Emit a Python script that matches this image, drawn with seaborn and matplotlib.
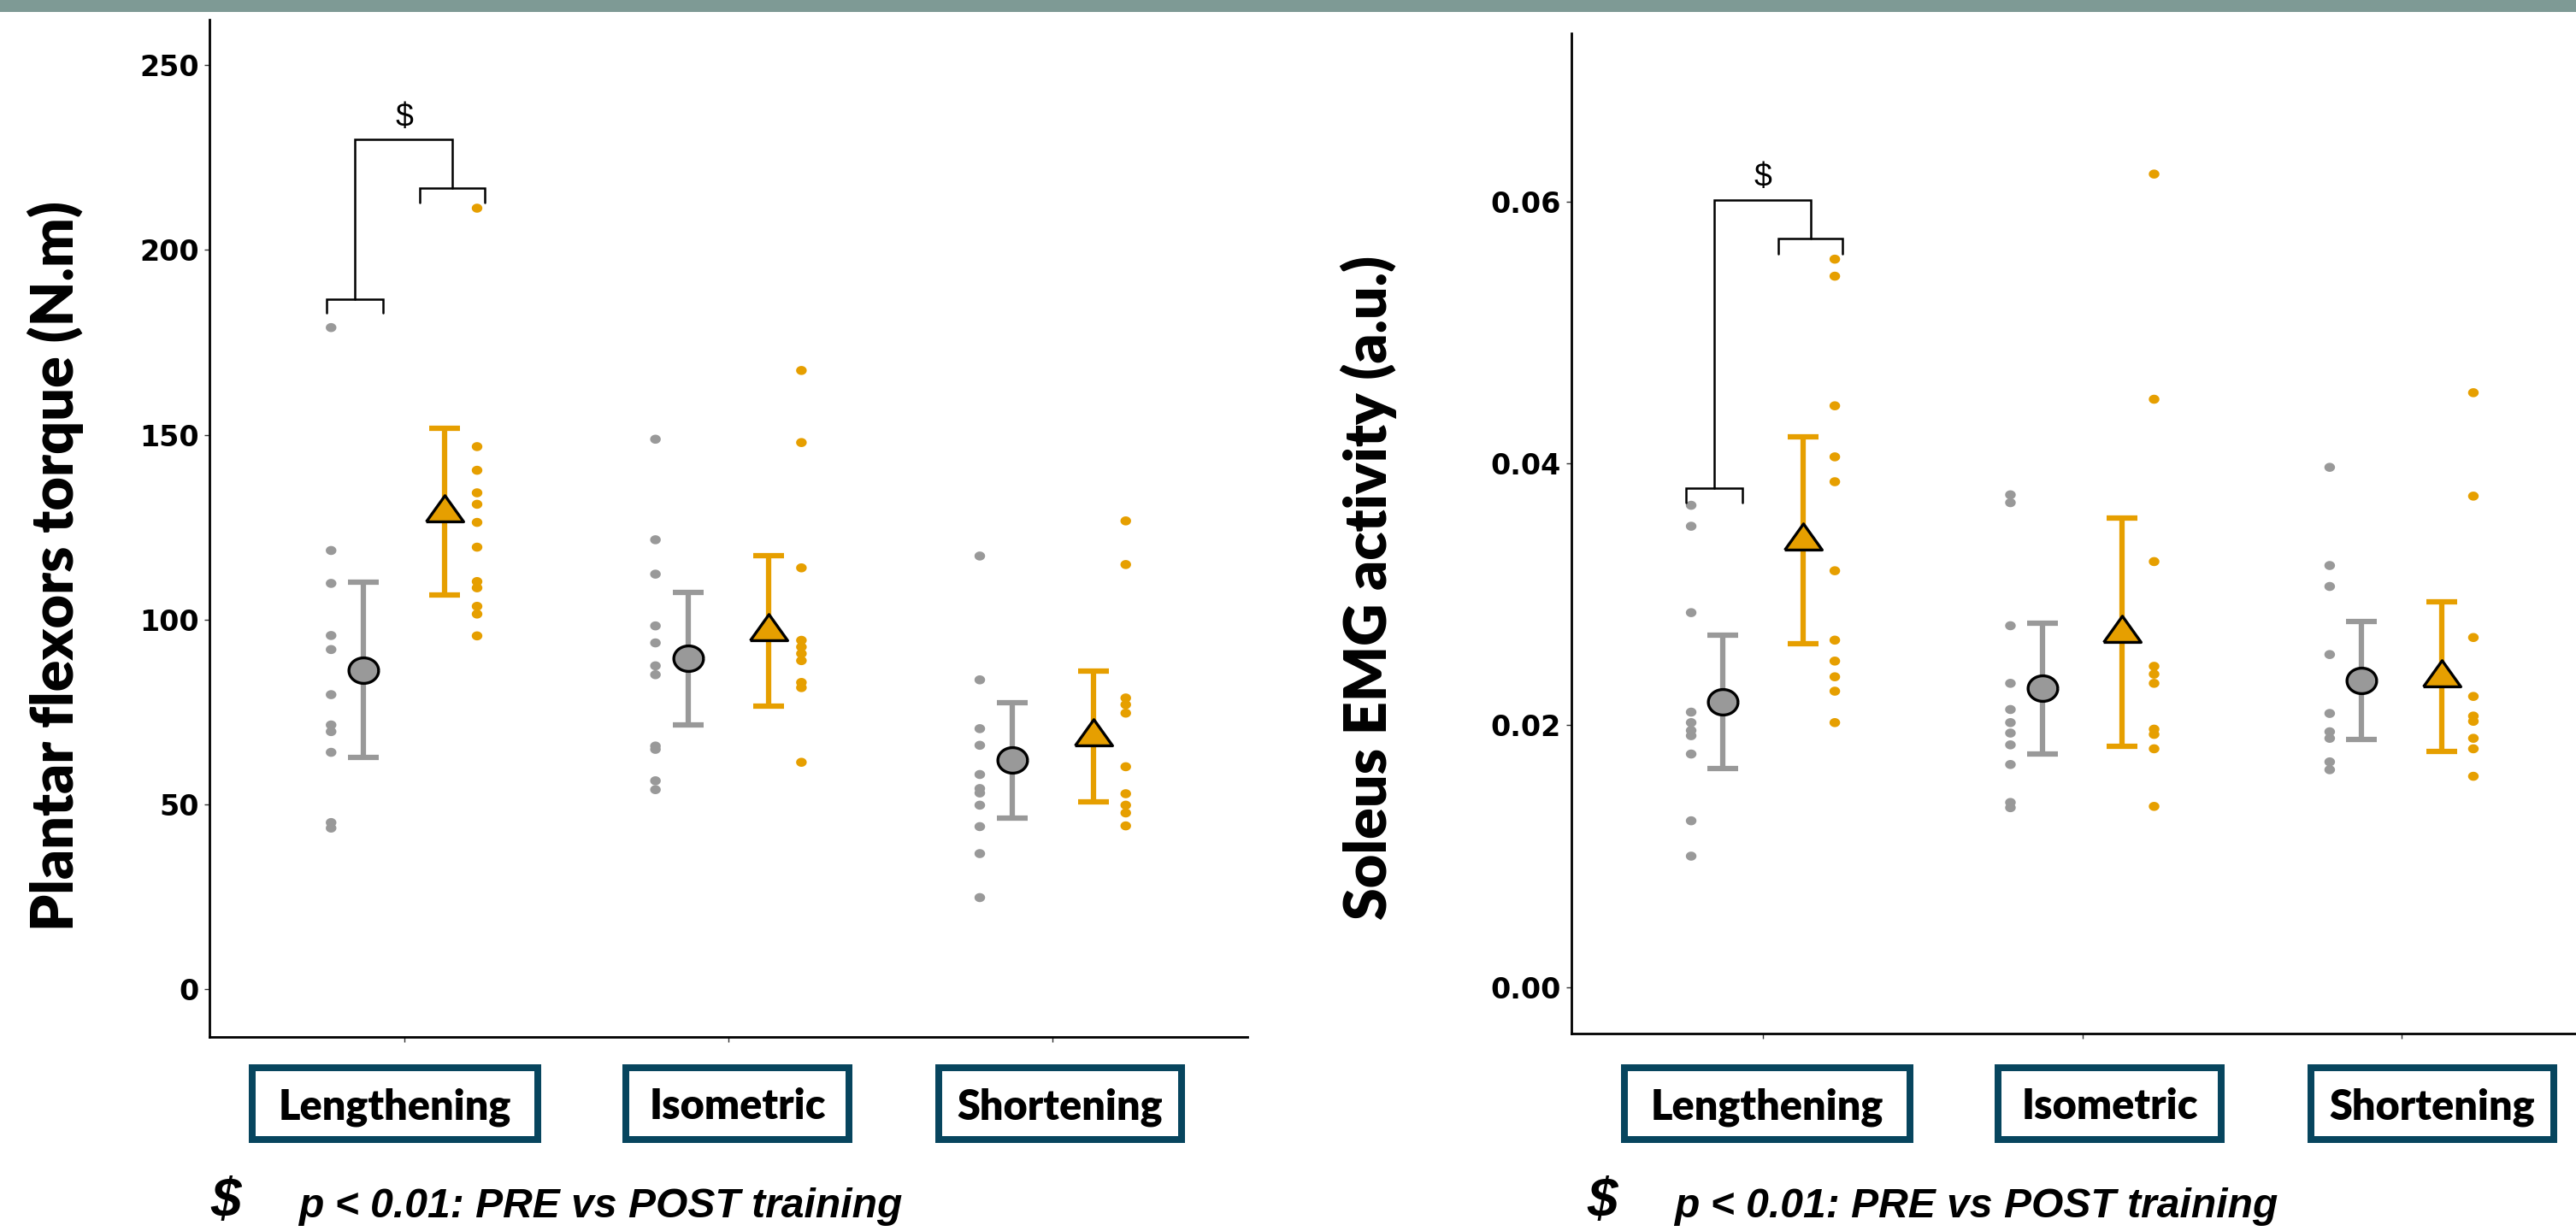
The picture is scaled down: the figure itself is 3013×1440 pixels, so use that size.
import numpy as np
import pandas as pd
import matplotlib
matplotlib.use("Agg")
import matplotlib.pyplot as plt
import seaborn as sns
from matplotlib.patches import Rectangle

# ---------------- data ----------------
categories = ["Lengthening", "Isometric", "Shortening"]

# Plantar flexors torque (N.m) - individual points
torque_pre_lengthening = [179.0, 118.7, 109.8, 95.7, 91.9, 79.7, 71.5, 69.7, 64.1, 45.1, 43.6]
torque_pre_isometric = [148.8, 121.6, 112.3, 98.3, 93.7, 87.5, 85.1, 65.8, 64.9, 56.4, 54.0]
torque_pre_shortening = [117.2, 83.7, 70.5, 66.0, 58.1, 54.3, 53.1, 49.8, 44.0, 36.7, 24.8]
torque_post_lengthening = [211.3, 146.8, 140.4, 134.3, 131.2, 126.3, 119.6, 110.3, 108.6, 103.6, 101.5, 95.6]
torque_post_isometric = [167.4, 147.9, 114.0, 94.4, 92.6, 90.8, 88.9, 83.0, 81.6, 61.4]
torque_post_shortening = [126.7, 114.9, 78.8, 77.0, 74.7, 60.2, 52.9, 49.8, 47.7, 44.2]
# means and SD
torque_pre_mean = [86.4, 89.5, 62.0]
torque_pre_sd = [23.7, 17.9, 15.6]
torque_post_mean = [129.2, 97.0, 68.4]
torque_post_sd = [22.6, 20.3, 17.6]

# Soleus EMG activity (a.u.) - individual points
emg_pre_lengthening = [0.0368, 0.0352, 0.0286, 0.0210, 0.0202, 0.0196, 0.0192, 0.0178, 0.0127, 0.0100]
emg_pre_isometric = [0.0376, 0.0370, 0.0276, 0.0232, 0.0212, 0.0202, 0.0194, 0.0185, 0.0170, 0.0141, 0.0137]
emg_pre_shortening = [0.0397, 0.0322, 0.0306, 0.0254, 0.0209, 0.0195, 0.0190, 0.0172, 0.0166]
emg_post_lengthening = [0.0556, 0.0543, 0.0444, 0.0405, 0.0386, 0.0318, 0.0265, 0.0249, 0.0237, 0.0226, 0.0202]
emg_post_isometric = [0.0621, 0.0449, 0.0325, 0.0245, 0.0239, 0.0232, 0.0197, 0.0193, 0.0182, 0.0138]
emg_post_shortening = [0.0454, 0.0375, 0.0267, 0.0222, 0.0207, 0.0203, 0.0190, 0.0182, 0.0161]
emg_pre_mean = [0.0218, 0.0228, 0.0234]
emg_pre_sd = [0.0051, 0.0050, 0.0045]
emg_post_mean = [0.0341, 0.0271, 0.0237]
emg_post_sd = [0.0079, 0.0087, 0.0057]

# significance brackets (Lengthening): [level, leg end]
torque_bracket_pre = [186.6, 182.9]
torque_bracket_post = [216.8, 212.8]
torque_bracket_top = 229.9
torque_dollar_y = 235.7
emg_bracket_pre = [0.0381, 0.0370]
emg_bracket_post = [0.0572, 0.0560]
emg_bracket_top = 0.0601
emg_dollar_y = 0.0618

torque_ticks = [0, 50, 100, 150, 200, 250]
emg_ticks = [0.00, 0.02, 0.04, 0.06]

ylabel_torque = "Plantar flexors torque (N.m)"
ylabel_emg = "Soleus EMG activity (a.u.)"
footnote_text = "p < 0.01: PRE vs POST training"

# ---------------- style ----------------
GREY = "#999999"
ORANGE = "#E69F00"
BOX = "#07455E"
BAND = "#7E9A95"
palette = {"PRE": GREY, "POST": ORANGE}

sns.set_theme(style="white")
plt.rcParams["font.family"] = ["DejaVu Sans"]

W, H = 3013, 1440
fig = plt.figure(figsize=(W / 100, H / 100), dpi=100)


def px_rect(x0, y0, x1, y1):
    return [x0 / W, 1 - y1 / H, (x1 - x0) / W, (y1 - y0) / H]


def ellipse(r):
    t = np.linspace(0, 2 * np.pi, 73)
    return list(zip(np.cos(t), r * np.sin(t)))


TRI = [(-1.0, -0.5), (1.0, -0.5), (0.0, 0.9), (-1.0, -0.5)]

DOT_OFF = 0.225
MEAN_OFF = 0.125


def build_df(pre_lists, post_lists):
    rows = []
    for i, (pre, post) in enumerate(zip(pre_lists, post_lists)):
        for v in pre:
            rows.append((categories[i], "PRE", i - DOT_OFF, v))
        for v in post:
            rows.append((categories[i], "POST", i + DOT_OFF, v))
    return pd.DataFrame(rows, columns=["condition", "time", "xpos", "value"])


def draw_bracket(ax, x0, x1, level, leg):
    ax.plot([x0, x0, x1, x1], [leg, level, level, leg], color="black", lw=1.8,
            solid_joinstyle="miter", zorder=6)


def panel(ax, df, pre_mean, pre_sd, post_mean, post_sd, ylim, yticks, fmt,
          b_pre, b_post, b_top, dollar_y):
    sns.scatterplot(data=df, x="xpos", y="value", hue="time", palette=palette,
                    marker=ellipse(0.85), s=80, linewidth=0, legend=False,
                    ax=ax, zorder=3)
    x = np.arange(len(categories))
    ax.errorbar(x - MEAN_OFF, pre_mean, yerr=pre_sd, fmt="none", ecolor=GREY,
                elinewidth=4.5, capsize=13, capthick=4.5, zorder=4)
    ax.errorbar(x + MEAN_OFF, post_mean, yerr=post_sd, fmt="none", ecolor=ORANGE,
                elinewidth=4.5, capsize=13, capthick=4.5, zorder=4)
    ax.plot(x - MEAN_OFF, pre_mean, linestyle="none", marker=ellipse(0.86),
            markersize=25, markerfacecolor=GREY, markeredgecolor="black",
            markeredgewidth=2.4, zorder=5)
    ax.plot(x + MEAN_OFF, post_mean, linestyle="none", marker=TRI,
            markersize=31.5, markerfacecolor=ORANGE, markeredgecolor="black",
            markeredgewidth=2.4, zorder=5)

    # brackets on Lengthening
    pre_x0, pre_x1 = -0.24, -0.065
    post_x0, post_x1 = 0.048, 0.25
    draw_bracket(ax, pre_x0, pre_x1, b_pre[0], b_pre[1])
    draw_bracket(ax, post_x0, post_x1, b_post[0], b_post[1])
    pm = (pre_x0 + pre_x1) / 2
    qm = (post_x0 + post_x1) / 2
    ax.plot([pm, pm, qm, qm], [b_pre[0], b_top, b_top, b_post[0]], color="black",
            lw=1.8, solid_joinstyle="miter", zorder=6)
    ax.text(0.0, dollar_y, "$", ha="center", va="center", fontsize=27,
            family=["Liberation Sans", "DejaVu Sans"], color="black", zorder=6)

    ax.set_xlim(-0.6, 2.6)
    ax.set_ylim(*ylim)
    ax.set_xticks(x)
    ax.set_xticklabels([])
    ax.set_yticks(yticks)
    ax.set_yticklabels([fmt(v) for v in yticks])
    ax.set_xlabel("")
    ax.set_ylabel("")
    for s in ["top", "right"]:
        ax.spines[s].set_visible(False)
    for s in ["left", "bottom"]:
        ax.spines[s].set_linewidth(2.0)
        ax.spines[s].set_color("black")
    ax.tick_params(axis="both", which="major", direction="out", length=4.3,
                   width=1.0, color="#333333", left=True, bottom=True)
    ax.tick_params(axis="y", pad=4.6, labelsize=24, labelcolor="black")
    for lab in ax.get_yticklabels():
        lab.set_fontweight("bold")
    ax.set_facecolor("white")


ax1 = fig.add_axes(px_rect(245, 23, 1459, 1213))
ax2 = fig.add_axes(px_rect(1838, 39, 3033, 1209))

df_torque = build_df([torque_pre_lengthening, torque_pre_isometric, torque_pre_shortening],
                     [torque_post_lengthening, torque_post_isometric, torque_post_shortening])
df_emg = build_df([emg_pre_lengthening, emg_pre_isometric, emg_pre_shortening],
                  [emg_post_lengthening, emg_post_isometric, emg_post_shortening])

panel(ax1, df_torque, torque_pre_mean, torque_pre_sd, torque_post_mean, torque_post_sd,
      (-12.9, 262.3), torque_ticks, lambda v: f"{v:d}",
      torque_bracket_pre, torque_bracket_post, torque_bracket_top, torque_dollar_y)
panel(ax2, df_emg, emg_pre_mean, emg_pre_sd, emg_post_mean, emg_post_sd,
      (-0.00355, 0.07285), emg_ticks, lambda v: f"{v:.2f}",
      emg_bracket_pre, emg_bracket_post, emg_bracket_top, emg_dollar_y)

# ---------------- decorations ----------------
fig.patches.append(Rectangle((0, 1 - 14 / H), 1, 14 / H, transform=fig.transFigure,
                             facecolor=BAND, edgecolor="none", zorder=0))

renderer = fig.canvas.get_renderer()


def scale_to(t, target, dim):
    bb = t.get_window_extent(renderer=renderer)
    cur = bb.width if dim == "w" else bb.height
    t.set_fontsize(t.get_fontsize() * target / cur)


# y labels
yl1 = fig.text(65 / W, 1 - 662 / H, ylabel_torque, rotation=90, ha="center", va="center",
               family=["Lato", "DejaVu Sans"], fontweight="heavy", fontsize=48,
               color="black")
scale_to(yl1, 855, "h")
yl2 = fig.text(1601 / W, 1 - 687 / H, ylabel_emg, rotation=90, ha="center", va="center",
               family=["Lato", "DejaVu Sans"], fontweight="heavy",
               fontsize=yl1.get_fontsize(), color="black")

# category boxes (outer pixel extents)
box_left_x = [(291, 632.5), (728, 997), (1094, 1386)]
box_right_x = [(1896, 2237.5), (2333, 2602), (2699, 2991)]
box_y = (1245, 1337)
BW = 8  # border width px

box_texts = []
for xs in (box_left_x, box_right_x):
    for (x0, x1), lab in zip(xs, categories):
        r = Rectangle(((x0 + BW / 2) / W, 1 - (box_y[1] - BW / 2) / H),
                      (x1 - x0 - BW) / W, (box_y[1] - box_y[0] - BW) / H,
                      transform=fig.transFigure, facecolor="white", edgecolor=BOX,
                      linewidth=BW * 0.72, joinstyle="miter", zorder=2)
        fig.patches.append(r)
        t = fig.text((x0 + x1) / 2 / W, 1 - 1309 / H, lab, ha="center", va="baseline",
                     family=["Lato", "DejaVu Sans"], fontweight="heavy", fontsize=32,
                     color="black", zorder=3)
        box_texts.append(t)
scale_to(box_texts[0], 273, "w")
for t in box_texts[1:]:
    t.set_fontsize(box_texts[0].get_fontsize())

# footnotes
for dx, tx in [(246, 349), (1856, 1958)]:
    fig.text(dx / W, 1 - 1424 / H, "$", ha="left", va="baseline",
             family=["Liberation Sans", "DejaVu Sans"], fontweight="bold",
             fontstyle="italic", fontsize=46, color="black")
    ft = fig.text(tx / W, 1 - 1424 / H, footnote_text, ha="left", va="baseline",
                  family=["Liberation Sans", "DejaVu Sans"], fontweight="bold",
                  fontstyle="italic", fontsize=34, color="black")
    scale_to(ft, 706, "w")

fig.savefig("out.png", dpi=100, facecolor="white")
